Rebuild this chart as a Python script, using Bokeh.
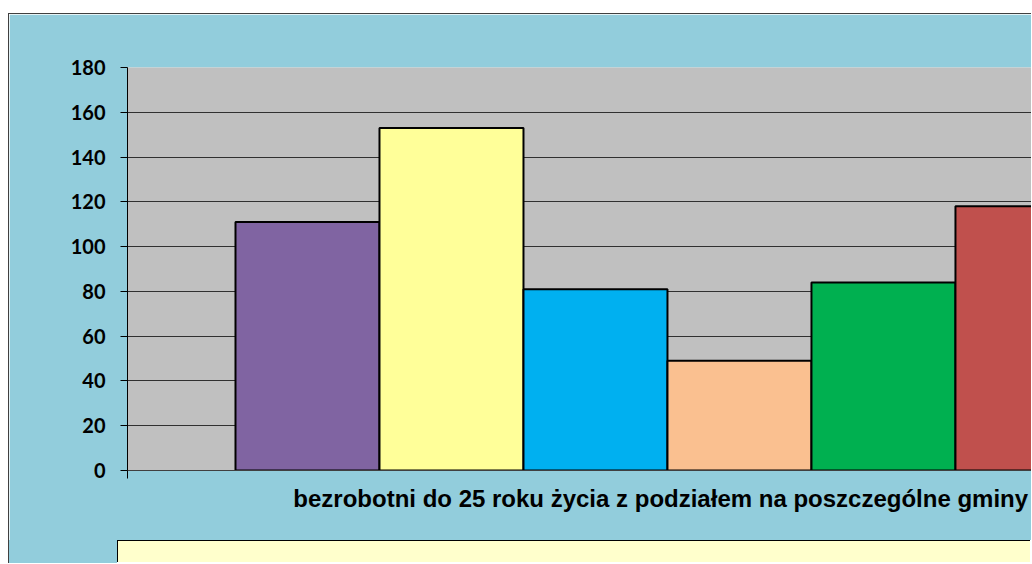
from bokeh.plotting import figure
from bokeh.models import Range1d, FixedTicker, LinearAxis, Spacer, Div, ColumnDataSource
from bokeh.layouts import column, row
from bokeh.embed import file_html
from bokeh.resources import INLINE

# data
series_index = [0, 1, 2, 3, 4, 5]
values = [111, 153, 81, 49, 84, 118]
colors = ["#8064A2", "#FFFF99", "#00B0F0", "#FAC090", "#00B050", "#C0504D"]
y_ticks = [0, 20, 40, 60, 80, 100, 120, 140, 160, 180]
x_title = "bezrobotni do 25 roku życia z podziałem na poszczególne gminy"

BG = "#92CDDC"
EDGE = "1px solid #404040"

# category spans -1.25 .. 6.25 (six bars plus gaps); window crops at the right
x_start, x_end, x_center = -1.25, 5.035, 2.5

p = figure(width=1023, height=527,
           x_range=Range1d(x_start, x_end), y_range=Range1d(0, 180),
           output_backend="svg", toolbar_location=None,
           min_border_left=118, min_border_right=0,
           min_border_top=53, min_border_bottom=71)
p.border_fill_color = BG
p.background_fill_color = "#C0C0C0"
p.outline_line_color = None
p.styles = {"border-left": EDGE, "border-top": EDGE}

src = ColumnDataSource(dict(x=series_index, top=values, color=colors))
p.vbar(x="x", top="top", width=1.0, bottom=0, source=src,
       fill_color="color", line_color="black", line_width=2)

# y axis
ya = p.yaxis[0]
ya.ticker = FixedTicker(ticks=y_ticks)
ya.major_tick_in = 0
ya.major_tick_out = 7
ya.minor_tick_line_color = None
ya.axis_line_color = "black"
ya.major_tick_line_color = "black"
ya.major_label_text_font = "Lato"
ya.major_label_text_font_style = "bold"
ya.major_label_text_font_size = "20px"
ya.major_label_text_color = "black"
ya.major_label_standoff = 15

# x axis (only the boundary tick)
xa = p.xaxis[0]
xa.ticker = FixedTicker(ticks=[x_start])
xa.major_label_overrides = {x_start: ""}
xa.major_label_text_font_size = "1px"
xa.major_label_standoff = 0
xa.major_tick_in = 0
xa.major_tick_out = 8
xa.minor_tick_line_color = None
xa.axis_line_color = "#404040"
xa.major_tick_line_color = "black"

# category title, centred on the full (cropped) plot area
xt = LinearAxis(ticker=FixedTicker(ticks=[x_center]),
                major_label_overrides={x_center: x_title})
xt.axis_line_color = None
xt.major_tick_line_color = None
xt.minor_tick_line_color = None
xt.major_tick_out = 0
xt.major_tick_in = 0
xt.major_label_standoff = 6
xt.major_label_text_font = "Liberation Sans"
xt.major_label_text_font_style = "bold"
xt.major_label_text_font_size = "24px"
xt.major_label_text_color = "black"
p.add_layout(xt, "below")

p.xgrid.grid_line_color = None
p.ygrid.ticker = FixedTicker(ticks=y_ticks)
p.ygrid.grid_line_color = "#303030"
p.ygrid.grid_line_width = 1

# legend box (only its top edge is inside the window)
left_pad = Div(text="", width=109, height=23, margin=0,
               styles={"background-color": BG, "border-left": EDGE})
legend_box = Div(text="", width=913, height=22, margin=0,
                 styles={"background-color": "#FFFFCC",
                         "border-left": "1px solid black",
                         "border-top": "1px solid black"})

layout = row(Spacer(width=8, height=564),
             column(Spacer(height=13, width=1024), p,
                    row(left_pad, legend_box, spacing=0), spacing=0),
             spacing=0)
open("out.html", "w").write(file_html(layout, INLINE))
